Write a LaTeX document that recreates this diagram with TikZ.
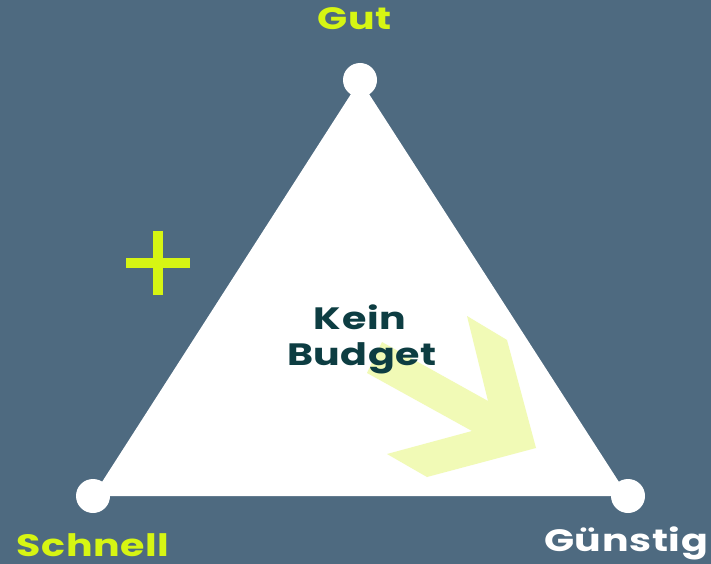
\documentclass[tikz,border=0pt]{standalone}
\usepackage{fontspec}
\setmainfont{Poppins}[FakeStretch=1.28,LetterSpace=2]
\definecolor{bgc}{HTML}{4E6A80}
\definecolor{lime}{HTML}{D6F513}
\definecolor{pale}{HTML}{F1FAB6}
\definecolor{darkt}{HTML}{0D3D42}
\tikzset{
  vertexdot/.style={circle,fill=white,minimum size=34bp,inner sep=0pt},
  lbl/.style={anchor=base,inner sep=0pt,font=\fontsize{31}{36}\selectfont\bfseries},
  centertext/.style={anchor=base,inner sep=0pt,text=darkt,font=\fontsize{31}{36}\selectfont\bfseries}
}
\begin{document}
\begin{tikzpicture}[x=1bp,y=-1bp]
\useasboundingbox (0,0) rectangle (711,564);
\fill[bgc] (0,0) rectangle (711,564);
\coordinate (top) at (360,80);
\coordinate (left) at (93,496);
\coordinate (right) at (628,496);
\fill[white] (top) -- (left) -- (right) -- cycle;
% pale arrow
\fill[pale] (382,342) -- (488,401) -- (467,316) -- (507,340) -- (536,448)
  -- (427,477) -- (387,454) -- (472,431) -- (367,373) -- cycle;
\node[centertext] (kein) at (360,329) {Kein};
\node[centertext] (budget) at (362,365) {Budget};
\node[vertexdot] (vtop) at (top) {};
\node[vertexdot] (vleft) at (left) {};
\node[vertexdot] (vright) at (right) {};
% plus
\fill[lime] (153,231) rectangle (163,295);
\fill[lime] (126,258) rectangle (190,268);
\node[lbl,text=lime] (gut) at (355,30) {Gut};
\node[lbl,text=lime] (schnell) at (93,556) {Schnell};
\node[lbl,text=white] (guenstig) at (626,551) {Günstig};
\end{tikzpicture}
\end{document}
